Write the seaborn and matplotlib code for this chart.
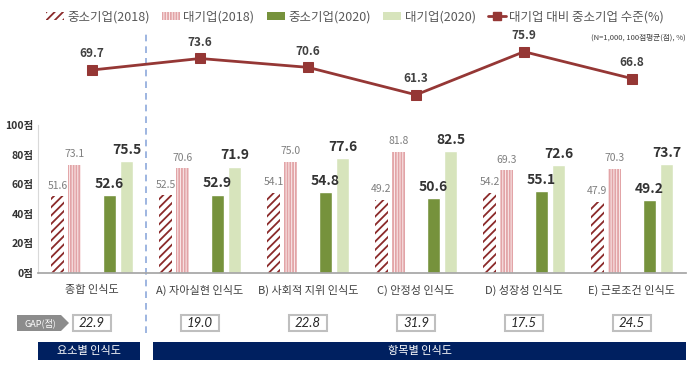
import matplotlib
matplotlib.use('Agg')
import matplotlib.pyplot as plt
import matplotlib.transforms as mtransforms
from matplotlib.patches import Patch, Rectangle, Polygon
from matplotlib.lines import Line2D
from matplotlib.colors import to_hex
import seaborn as sns
import pandas as pd

# ---------------------------------------------------------------
# Data

categories = ['종합 인식도', 'A) 자아실현 인식도', 'B) 사회적 지위 인식도',
              'C) 안정성 인식도', 'D) 성장성 인식도', 'E) 근로조건 인식도']
series_names = ['중소기업(2018)', '대기업(2018)', '중소기업(2020)', '대기업(2020)']
sme_2018 = [51.6, 52.5, 54.1, 49.2, 54.2, 47.9]
large_2018 = [73.1, 70.6, 75.0, 81.8, 69.3, 70.3]
sme_2020 = [52.6, 52.9, 54.8, 50.6, 55.1, 49.2]
large_2020 = [75.5, 71.9, 77.6, 82.5, 72.6, 73.7]
ratio_name = '대기업 대비 중소기업 수준(%)'
ratio = [69.7, 73.6, 70.6, 61.3, 75.9, 66.8]
gap_values = [22.9, 19.0, 22.8, 31.9, 17.5, 24.5]
y_ticks = [0, 20, 40, 60, 80, 100]
y_tick_labels = ['0점', '20점', '40점', '60점', '80점', '100점']
group_labels = ['요소별 인식도', '항목별 인식도']
note = '(N=1,000, 100점평균(점), %)'

# ---------------------------------------------------------------
# Long-form table, with an empty spacer level to open the gap in the middle of each group

spacer = ' '
hue_order = [series_names[0], series_names[1], spacer, series_names[2], series_names[3]]
rows = []
for name, vals in zip(series_names, [sme_2018, large_2018, sme_2020, large_2020]):
    for cat, v in zip(categories, vals):
        rows.append({'category': cat, 'series': name, 'value': v})
df = pd.DataFrame(rows)

red = '#8B2A2A'
pink_face = '#FBEDED'
pink_line = '#E2A4A7'
green = '#76923C'
light_green = '#D7E4BC'
line_color = '#953735'
navy = '#002060'

palette = {series_names[0]: '#800000', series_names[1]: '#ff00ff', spacer: '#000000',
           series_names[2]: green, series_names[3]: light_green}

# ---------------------------------------------------------------
# Style

sns.set_theme(style='white')
plt.rcParams['font.family'] = ['Noto Sans CJK KR', 'DejaVu Sans']
plt.rcParams['hatch.linewidth'] = 1.3

fig = plt.figure(figsize=(6.98, 3.71), dpi=100)
H = 371.0
W = 698.0

ax = fig.add_axes([38 / W, (H - 272.7) / H, 648 / W, 147.7 / H])
sns.barplot(data=df, x='category', y='value', hue='series', hue_order=hue_order,
            order=categories, palette=palette, width=0.8, gap=0.25,
            saturation=1, errorbar=None, legend=False, ax=ax)

# restyle bars and add the value labels
for p in ax.patches:
    c = to_hex(p.get_facecolor())
    h = p.get_height()
    xc = p.get_x() + p.get_width() / 2
    if c == '#800000':
        p.set_facecolor('white')
        p.set_edgecolor(red)
        p.set_hatch('////')
        p.set_linewidth(0)
        ax.annotate(f'{h:.1f}', (xc, h), xytext=(0, 4), textcoords='offset points',
                    ha='center', va='bottom', fontsize=7.5, color='#7F7F7F')
    elif c == '#ff00ff':
        p.set_facecolor(pink_face)
        p.set_edgecolor(pink_line)
        p.set_hatch('||||||')
        p.set_linewidth(0)
        ax.annotate(f'{h:.1f}', (xc, h), xytext=(0, 4), textcoords='offset points',
                    ha='center', va='bottom', fontsize=7.5, color='#7F7F7F')
    elif c in (to_hex(green), to_hex(light_green)):
        ax.annotate(f'{h:.1f}', (xc, h), xytext=(0, 3), textcoords='offset points',
                    ha='center', va='bottom', fontsize=10, fontweight='bold',
                    color='#333333')

ax.set_xlim(-0.5, 5.5)
ax.set_ylim(0, 100)
ax.set_yticks(y_ticks)
ax.set_yticklabels(y_tick_labels, fontsize=7.5, fontweight='bold', color='#333333')
ax.set_xticks(range(len(categories)))
ax.set_xticklabels(categories, fontsize=8, color='#404040')
ax.tick_params(axis='both', length=0)
ax.tick_params(axis='x', pad=9)
ax.tick_params(axis='y', pad=3)
ax.set_xlabel('')
ax.set_ylabel('')
for s in ['top', 'right']:
    ax.spines[s].set_visible(False)
ax.spines['bottom'].set_color('#A6A6A6')
ax.spines['left'].set_color('#D9D9D9')
ax.spines['left'].set_linewidth(0.8)

# dashed separator between the overall and per-item groups
ax.axvline(0.5, ymin=-0.41, ymax=1.63, clip_on=False, color='#8EA9DB',
           linestyle=(0, (4, 3)), linewidth=1.2)

# ---------------------------------------------------------------
# Ratio line on top

ax2 = fig.add_axes([38 / W, (H - 113.4) / H, 648 / W, 73.8 / H])
sns.lineplot(x=list(range(len(categories))), y=ratio, color=line_color, linewidth=2,
             marker='s', markersize=7, markeredgecolor=line_color, ax=ax2)
for i, v in enumerate(ratio):
    ax2.annotate(f'{v:.1f}', (i, v), xytext=(0, 7), textcoords='offset points',
                 ha='center', va='bottom', fontsize=8.5, fontweight='bold', color='#404040')
ax2.set_xlim(-0.5, 5.5)
ax2.set_ylim(55, 80)
ax2.axis('off')

# ---------------------------------------------------------------
# GAP row and group bars below the chart

blend = mtransforms.blended_transform_factory(ax.transData, fig.transFigure)
gap_y = (H - 323) / H
box_h = 16 / H
for i, g in enumerate(gap_values):
    ax.add_patch(Rectangle((i - 0.175, gap_y - box_h / 2), 0.35, box_h, transform=blend,
                           facecolor='white', edgecolor='#BFBFBF', linewidth=1.5,
                           clip_on=False))
    ax.text(i, gap_y, f'{g:.1f}', transform=blend, ha='center', va='center',
            fontsize=9.5, fontstyle='italic', family=['Lato', 'DejaVu Sans'],
            color='#262626')

pts = [(17, 315), (61, 315), (69, 323), (61, 331), (17, 331)]
fig.add_artist(Polygon([(x / W, (H - y) / H) for x, y in pts], closed=True,
                       facecolor='#8C8C8C', edgecolor='none', transform=fig.transFigure))
fig.text(40 / W, gap_y, 'GAP(점)', ha='center', va='center', fontsize=6.5, color='white')

bar_y = (H - 360) / H
bar_h = 18 / H
spans = [(-0.5, 0.445), (0.565, 5.5)]
for (x0, x1), lab in zip(spans, group_labels):
    ax.add_patch(Rectangle((x0, bar_y), x1 - x0, bar_h, transform=blend,
                           facecolor=navy, edgecolor='none', clip_on=False))
    ax.text((x0 + x1) / 2, bar_y + bar_h / 2, lab, transform=blend, ha='center',
            va='center', fontsize=8, color='white')

# ---------------------------------------------------------------
# Legend and note

handles = [
    Patch(facecolor='white', edgecolor=red, hatch='////', linewidth=0),
    Patch(facecolor=pink_face, edgecolor=pink_line, hatch='||||||', linewidth=0),
    Patch(facecolor=green, edgecolor='none'),
    Patch(facecolor=light_green, edgecolor='none'),
    Line2D([0], [0], color=line_color, linewidth=2, marker='s', markersize=6),
]
fig.legend(handles, series_names + [ratio_name], loc='center', ncol=5,
           bbox_to_anchor=(355 / W, (H - 17) / H), frameon=False, fontsize=9,
           handlelength=1.4, handleheight=0.6, handletextpad=0.3, columnspacing=1.0,
           labelcolor='#595959')
fig.text(686 / W, (H - 38) / H, note, ha='right', va='center', fontsize=5.5, color='#404040')

fig.savefig('out.png', dpi=100)
